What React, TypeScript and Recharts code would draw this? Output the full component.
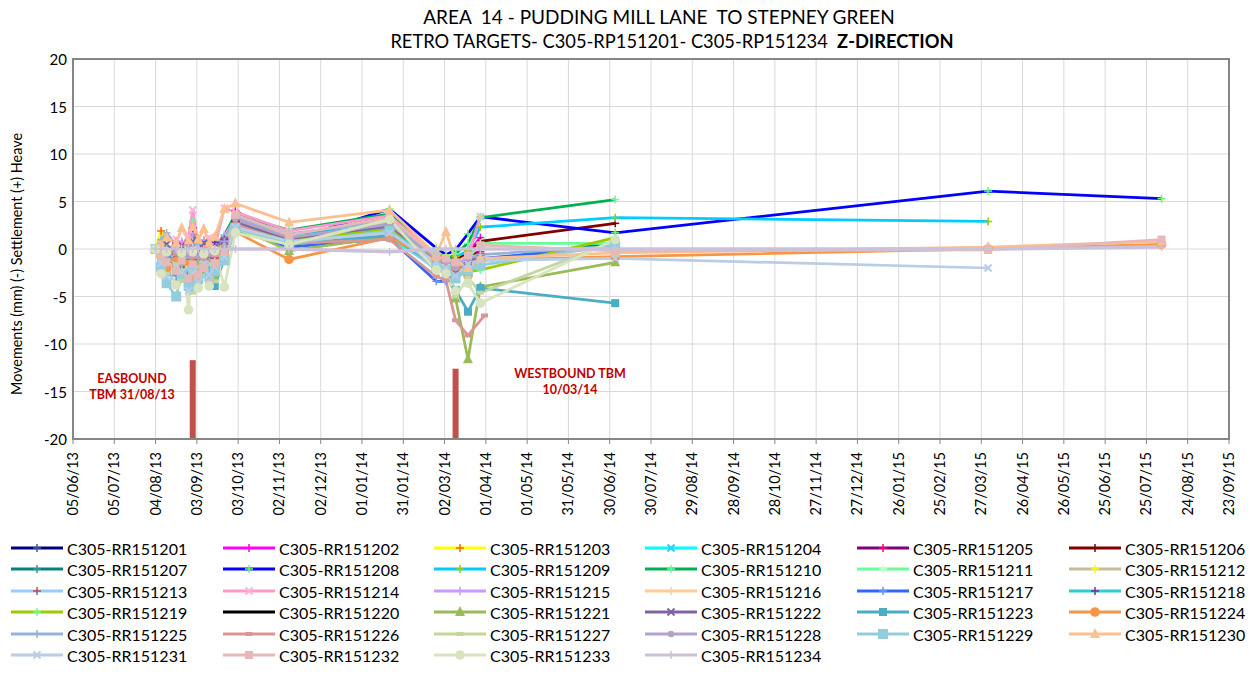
import React from 'react';
import { LineChart, Line, XAxis, YAxis, CartesianGrid, ReferenceLine, ReferenceArea } from 'recharts';

const _ = null;

const titleLine1 = 'AREA  14 - PUDDING MILL LANE  TO STEPNEY GREEN';
const titleLine2a = 'RETRO TARGETS- C305-RP151201- C305-RP151234  ';
const titleLine2b = 'Z-DIRECTION';
const yAxisTitle = 'Movements (mm) (-) Settlement (+) Heave';

const xTickLabels = [
  '05/06/13', '05/07/13', '04/08/13', '03/09/13', '03/10/13', '02/11/13', '02/12/13', '01/01/14',
  '31/01/14', '02/03/14', '01/04/14', '01/05/14', '31/05/14', '30/06/14', '30/07/14', '29/08/14',
  '28/09/14', '28/10/14', '27/11/14', '27/12/14', '26/01/15', '25/02/15', '27/03/15', '26/04/15',
  '26/05/15', '25/06/15', '25/07/15', '24/08/15', '23/09/15',
];
const yTicks = [-20, -15, -10, -5, 0, 5, 10, 15, 20];

const readingDates = [
  '04/08/13', '08/08/13', '12/08/13', '19/08/13', '23/08/13', '28/08/13', '31/08/13', '04/09/13',
  '08/09/13', '12/09/13', '16/09/13', '23/09/13', '01/10/13', '09/11/13', '21/01/14', '24/02/14',
  '03/03/14', '10/03/14', '19/03/14', '28/03/14', '31/03/14', '04/07/14', '01/04/15', '05/08/15',
];

const tbmDates = ['31/08/13', '10/03/14'];
const tbmBarTops = [-11.7, -12.6];
const tbmLabels = [['EASBOUND', 'TBM 31/08/13'], ['WESTBOUND TBM', '10/03/14']];

const seriesNames = [
  'C305-RR151201', 'C305-RR151202', 'C305-RR151203', 'C305-RR151204', 'C305-RR151205', 'C305-RR151206',
  'C305-RR151207', 'C305-RR151208', 'C305-RR151209', 'C305-RR151210', 'C305-RR151211', 'C305-RR151212',
  'C305-RR151213', 'C305-RR151214', 'C305-RR151215', 'C305-RR151216', 'C305-RR151217', 'C305-RR151218',
  'C305-RR151219', 'C305-RR151220', 'C305-RR151221', 'C305-RR151222', 'C305-RR151223', 'C305-RR151224',
  'C305-RR151225', 'C305-RR151226', 'C305-RR151227', 'C305-RR151228', 'C305-RR151229', 'C305-RR151230',
  'C305-RR151231', 'C305-RR151232', 'C305-RR151233', 'C305-RR151234',
];

const seriesColors = [
  '#000080', '#ff00ff', '#ffff00', '#00ffff', '#800080', '#800000',
  '#008080', '#0000ff', '#00ccff', '#00b050', '#66ff99', '#c4bd97',
  '#99ccff', '#ff99cc', '#cc99ff', '#ffcc99', '#3366ff', '#33cccc',
  '#99cc00', '#000000', '#9bbb59', '#8064a2', '#4bacc6', '#f79646',
  '#95b3d7', '#d99694', '#c3d69b', '#b3a2c7', '#93cddd', '#fac090',
  '#b9cde5', '#e6b9b8', '#d7e4bd', '#ccc1da',
];

const markerColors = [
  '#3d5a9e', '#ff00ff', '#ff6600', '#33ccff', '#ff0066', '#800000',
  '#339999', '#66ff66', '#99cc00', '#66ff99', '#ccffcc', '#ffff00',
  '#c0504d', '#ffb3d9', '#cc99ff', '#ffcc99', '#6699ff', '#7030a0',
  '#66ff99', '#000000', '#9bbb59', '#8064a2', '#4bacc6', '#f79646',
  '#95b3d7', '#d99694', '#c3d69b', '#b3a2c7', '#93cddd', '#fac090',
  '#b9cde5', '#e6b9b8', '#d7e4bd', '#ccc1da',
];

const markerShapes = [
  'plus', 'plus', 'plus', 'x', 'plus', 'plus',
  'plus', 'plus', 'plus', 'plus', 'plus', 'plus',
  'plus', 'x', 'plus', 'plus', 'plus', 'plus',
  'plus', 'none', 'triangle', 'x', 'square', 'circle',
  'plus', 'dash', 'dash', 'smallcircle', 'bigsquare', 'triangle',
  'x', 'square', 'circle', 'plus',
];

const v201 = [0, -0.4, -1.0, -1.8, -0.9, -2.6, -1.2, -2.2, -0.7, -1.4, -2.5, -0.6, 2.4, 0.6, 1.6, -1.6, -2.0, -1.8, -1.2, -0.9, _, _, _, _];
const v202 = [0, 0.3, -0.8, -1.5, 0.6, -2.0, 1.2, -1.0, 0.4, -2.2, -1.2, 0.8, 3.0, 0.2, 1.4, -1.2, -1.8, -1.3, -0.4, 1.2, _, _, _, _];
const v203 = [0, 1.9, -0.5, 0.8, -1.2, 0.5, 1.5, -0.4, 0.9, -1.0, 0.2, 1.1, 2.8, 1.2, 1.8, -0.8, -1.0, -1.6, -0.9, -0.5, _, _, _, _];
const v204 = [0, -1.0, -2.5, -1.2, -3.0, -1.5, -2.8, -0.6, -2.0, -1.2, -3.2, -0.5, 2.0, 0.4, 1.2, -2.0, -2.4, -2.8, -1.6, -1.2, _, _, _, _];
const v205 = [0, -0.6, -0.2, -1.6, -0.8, -2.4, -0.5, -1.8, 0.3, -1.6, -0.9, 0.5, 4.0, 1.0, 2.2, -1.4, -1.6, -2.0, -0.6, -0.3, _, _, _, _];
const v206 = [0, -0.2, -1.4, -0.6, -2.0, -0.9, -3.2, -1.1, -0.3, -2.0, -1.5, -0.2, 2.9, 1.2, 3.4, -0.9, -1.4, -1.0, -0.6, 0.8, _, 2.7, _, _];
const v207 = [0, -0.8, -1.8, -0.4, -1.4, -3.4, -1.0, -2.6, -1.5, -0.8, -2.2, -0.4, 2.6, 0.9, 1.8, -1.8, -2.2, -2.4, -1.8, -1.2, _, 0.7, _, _];
const v208 = [0, -0.3, -0.9, -2.2, -1.1, -1.8, -4.2, -1.4, -0.6, -2.8, -1.1, 0.2, 2.2, 0.9, 4.2, 0.1, -0.6, -0.1, 1.6, 3.4, _, 1.7, 6.1, 5.3];
const v209 = [0, -1.2, -0.4, -1.9, -0.5, -2.8, -0.8, -1.9, -1.0, -0.6, -2.4, -0.3, 3.5, 1.4, 2.5, -1.0, -1.5, -0.8, -0.2, 2.3, _, 3.3, 2.9, _];
const v210 = [0, 0.8, -0.6, 0.4, -1.0, 1.0, 2.9, 0.2, -0.8, 0.6, -0.5, 1.5, 3.6, 2.0, 3.7, -0.6, -1.2, -0.5, 0.6, 3.3, _, 5.2, _, _];
const v211 = [0, -0.5, 0.4, -0.8, 0.2, -1.3, 0.7, -0.7, 0.5, -1.1, 0.1, 0.6, 3.1, 1.3, 2.0, -1.0, -1.6, -2.4, -1.0, 0.6, _, 0.6, _, _];
const v212 = [0, 0.2, -1.1, -0.3, -1.7, -0.6, -1.9, -0.2, -1.2, -0.4, -1.6, 0.1, 2.5, 0.9, 2.7, -1.4, -1.8, -2.0, -1.4, -1.0, _, _, _, _];
const v213 = [0, -1.4, -2.2, -3.6, -1.8, -2.9, -1.3, -3.1, -1.6, -2.5, -1.0, -0.8, 2.1, 0.7, 1.5, -2.2, -2.6, -2.2, -1.7, -1.4, _, _, _, _];
const v214 = [0, 0.5, -0.6, 1.0, -0.3, 1.4, 4.1, 0.6, -0.4, 1.2, 0.2, 4.3, 3.9, 1.9, 3.5, -0.7, -1.1, -1.5, -0.8, 3.4, _, _, _, _];
const v215 = [0, -0.7, 0.2, -1.1, 0.8, -0.9, 1.6, -0.5, 0.9, -0.8, 0.4, 1.4, 3.2, 1.1, 2.3, -1.2, -1.5, -1.9, -1.1, -0.7, _, _, _, _];
const v216 = [0, -0.9, -1.6, -0.7, -2.3, -1.2, -2.7, -1.5, -0.8, -2.1, -1.3, 0.3, 1.9, 0.3, 1.2, -0.8, -1.1, -2.6, -2.0, -1.6, _, _, _, _];
const v217 = [0, -1.6, -1.2, -2.8, -1.7, -3.6, -1.9, -2.4, -1.1, -3.3, -1.8, -0.9, 2.0, 0.2, 1.1, -3.4, -3.4, -2.6, -1.9, -1.0, _, 0.2, _, _];
const v218 = [0, 0.1, -0.9, 0.6, -0.7, 0.9, 2.2, -0.3, 0.4, -0.9, 0.7, 1.0, 3.0, 1.0, 2.1, -1.3, -1.9, -3.0, -1.4, -0.6, _, _, _, _];
const v219 = [0, -0.4, -1.3, -0.9, -2.1, -1.0, -2.6, -0.6, -1.8, -0.7, -2.0, 0.4, 2.3, 1.0, 2.0, -0.4, -0.9, -1.6, -2.4, -2.2, _, 1.2, _, _];
const v220 = [_, _, _, _, _, _, _, _, _, _, _, _, _, _, _, _, _, _, _, _, _, _, _, _];
const v221 = [0, -1.1, -2.3, -1.4, -3.1, -1.9, -3.5, -1.7, -2.6, -1.4, -2.9, -0.5, 2.4, -0.2, 1.3, -1.5, -2.0, -5.2, -11.6, -4.0, _, -1.4, _, _];
const v222 = [0, -0.2, 0.5, -0.6, 0.3, -1.0, 0.8, -0.4, 0.6, -0.7, 0.2, 0.9, 2.8, 1.1, 2.4, -1.1, -1.7, -2.2, -1.3, -0.9, _, _, _, _];
const v223 = [0, -1.8, -1.0, -2.4, -1.3, -3.8, -2.0, -2.9, -1.2, -2.2, -3.9, -1.0, 1.9, 0.5, 1.4, -1.8, -2.6, -4.3, -6.6, -4.1, _, -5.7, _, _];
const v224 = [0, -0.8, -2.0, -1.3, -2.6, -1.6, -3.0, -2.1, -1.4, -2.6, -1.8, -0.6, 1.8, -1.1, 1.2, -1.2, -2.2, -1.8, -2.8, -1.2, _, -0.8, 0.0, 0.5];
const v225 = [0, 1.0, 1.7, 0.4, -0.6, 0.8, -0.4, 0.5, -0.8, 0.3, -0.5, 0.8, 3.4, 1.6, 2.9, -0.9, -1.3, -1.8, -1.0, -0.6, _, 0.3, _, _];
const v226 = [0, -0.3, -1.7, -0.5, -1.5, -2.2, -0.9, -2.0, -0.6, -1.3, -0.7, 0.2, 2.6, 0.6, 1.0, -2.9, -3.3, -7.5, -9.1, _, -7.0, _, _, _];
const v227 = [0, -1.3, -2.6, -1.6, -3.3, -2.0, -4.6, -1.9, -2.8, -1.6, -3.4, -0.7, 2.1, 0.4, 3.0, -1.7, -2.3, -5.0, -3.0, -4.6, _, 0.8, _, _];
const v228 = [0, -0.5, -1.1, -0.2, -1.4, -0.7, -2.0, -0.8, -1.5, -0.5, -1.9, 0.1, 3.1, 1.2, 2.6, -1.0, -1.4, -2.0, -1.5, -1.1, _, _, _, _];
const v229 = [0, -1.9, -3.6, -5.0, -2.6, -3.9, -2.2, -3.2, -1.8, -2.9, -2.3, -1.2, 2.2, 0.6, 1.9, -1.9, -2.3, -3.1, -2.2, -1.7, _, 0.4, _, _];
const v230 = [0, 0.4, 1.2, 0.6, 2.2, 0.9, 2.3, 1.0, 2.1, 0.6, 1.3, 4.2, 4.8, 2.8, 4.1, -0.6, 1.8, -1.2, -2.0, -1.0, _, -0.4, 0.2, 0.8];
const v231 = [0, -1.5, -2.9, -1.7, -2.4, -4.4, -2.5, -3.5, -1.6, -2.7, -1.9, -0.8, 2.3, 0.8, 1.7, -1.4, -2.0, -2.8, -1.6, -1.2, _, -1.0, -2.0, _];
const v232 = [0, -0.7, -1.4, -2.3, -1.2, -3.1, -1.6, -2.7, -2.0, -3.6, -1.5, -0.3, 3.6, 1.5, 3.3, -0.8, -1.0, -1.4, -0.7, 0.4, _, -0.2, -0.1, 1.0];
const v233 = [0, -2.6, -0.3, -3.8, -0.4, -6.4, -0.3, -4.1, -0.5, -3.9, -0.2, -4.0, 1.7, 0.5, 3.1, -2.2, -2.6, -4.4, -3.6, -5.7, _, 1.0, _, _];
const v234 = [0, 0, 0, 0, 0, 0, 0, 0, 0, 0, 0, 0, 0, 0, -0.3, 0, 0, 0, 0, 0, _, 0, 0, 0.2];

const seriesValues = [
  v201, v202, v203, v204, v205, v206, v207, v208, v209, v210, v211, v212,
  v213, v214, v215, v216, v217, v218, v219, v220, v221, v222, v223, v224,
  v225, v226, v227, v228, v229, v230, v231, v232, v233, v234,
];

// ---- helpers ----
const BASE = Date.UTC(2013, 5, 5);
const dayOf = (s: string) => {
  const [d, m, y] = s.split('/').map(Number);
  return Math.round((Date.UTC(2000 + y, m - 1, d) - BASE) / 86400000);
};
const xTicks = xTickLabels.map(dayOf);
const tickLabelByDay: Record<number, string> = {};
xTickLabels.forEach((l, i) => { tickLabelByDay[xTicks[i]] = l; });

const rows = readingDates.map((d, j) => {
  const row: any = { t: dayOf(d) };
  seriesValues.forEach((vals, i) => { row['s' + i] = vals[j]; });
  return row;
});

const FONT = 'Lato, "Liberation Sans", sans-serif';
const AXIS_GRAY = '#868686';

function markerEl(shape: string, color: string, cx: number, cy: number, key?: string) {
  switch (shape) {
    case 'plus':
      return (
        <g key={key}>
          <line x1={cx - 4} y1={cy} x2={cx + 4} y2={cy} stroke={color} strokeWidth={1.5} />
          <line x1={cx} y1={cy - 4} x2={cx} y2={cy + 4} stroke={color} strokeWidth={1.5} />
        </g>
      );
    case 'x':
      return (
        <g key={key}>
          <line x1={cx - 3.5} y1={cy - 3.5} x2={cx + 3.5} y2={cy + 3.5} stroke={color} strokeWidth={2} />
          <line x1={cx - 3.5} y1={cy + 3.5} x2={cx + 3.5} y2={cy - 3.5} stroke={color} strokeWidth={2} />
        </g>
      );
    case 'triangle':
      return <polygon key={key} points={`${cx},${cy - 6} ${cx - 5},${cy + 4} ${cx + 5},${cy + 4}`} fill={color} />;
    case 'square':
      return <rect key={key} x={cx - 4} y={cy - 4} width={8} height={8} fill={color} />;
    case 'bigsquare':
      return <rect key={key} x={cx - 5} y={cy - 5} width={10} height={10} fill={color} />;
    case 'circle':
      return <circle key={key} cx={cx} cy={cy} r={4.8} fill={color} />;
    case 'smallcircle':
      return <circle key={key} cx={cx} cy={cy} r={3.2} fill={color} />;
    case 'dash':
      return <rect key={key} x={cx - 3.5} y={cy - 2} width={7} height={4} fill={color} />;
    default:
      return <g key={key} />;
  }
}

const makeDot = (i: number) => (props: any) => {
  const { cx, cy, index, value } = props;
  const k = `dot-${i}-${index}`;
  if (cx == null || cy == null || value == null || Number.isNaN(cy)) return <g key={k} />;
  return markerEl(markerShapes[i], markerColors[i], cx, cy, k);
};

const XTick = (props: any) => {
  const { x, payload } = props;
  const label = tickLabelByDay[payload.value] ?? '';
  const ax = x + 5;
  const ay = 452;
  return (
    <text x={ax} y={ay} transform={`rotate(-90, ${ax}, ${ay})`} textAnchor="end" fontSize={14.5} fontFamily={FONT} fill="#000">
      {label}
    </text>
  );
};

const YTick = (props: any) => {
  const { y, payload } = props;
  return (
    <text x={67} y={y} textAnchor="end" dominantBaseline="central" fontSize={15} fontFamily={FONT} fill="#000">
      {payload.value}
    </text>
  );
};

const legendColX = [10, 222, 433, 644, 856, 1068];
const legendRowY = [548, 569, 591, 612, 634, 655];

export default function App() {
  return (
    <div style={{ position: 'absolute', left: 0, top: 0, width: 1258, height: 678, background: '#fff', fontFamily: FONT }}>
      <LineChart width={1258} height={678} data={rows} margin={{ top: 59, right: 29, bottom: 159, left: 13 }}>
        <CartesianGrid stroke="#d9d9d9" strokeWidth={1} />
        <XAxis
          dataKey="t"
          type="number"
          domain={[xTicks[0], xTicks[xTicks.length - 1]]}
          ticks={xTicks}
          interval={0}
          height={80}
          tick={<XTick />}
          tickSize={5}
          tickLine={{ stroke: AXIS_GRAY }}
          axisLine={{ stroke: AXIS_GRAY, strokeWidth: 2 }}
          allowDataOverflow
        />
        <YAxis
          type="number"
          domain={[yTicks[0], yTicks[yTicks.length - 1]]}
          ticks={yTicks}
          interval={0}
          width={60}
          tick={<YTick />}
          tickLine={false}
          axisLine={{ stroke: AXIS_GRAY, strokeWidth: 2 }}
          allowDataOverflow
        />
        <ReferenceArea
          x1={xTicks[0]}
          x2={xTicks[xTicks.length - 1]}
          y1={yTicks[0]}
          y2={yTicks[yTicks.length - 1]}
          fill="none"
          fillOpacity={0}
          stroke={AXIS_GRAY}
          strokeWidth={2}
        />
        {tbmDates.map((d, i) => (
          <ReferenceLine
            key={'tbm' + i}
            segment={[{ x: dayOf(d), y: yTicks[0] }, { x: dayOf(d), y: tbmBarTops[i] }]}
            stroke="#c0504d"
            strokeWidth={6}
          />
        ))}
        {seriesNames.map((name, i) => (
          <Line
            key={name}
            name={name}
            dataKey={'s' + i}
            stroke={seriesColors[i]}
            strokeWidth={i === 33 ? 3.5 : 2.75}
            dot={makeDot(i)}
            activeDot={false}
            connectNulls
            isAnimationActive={false}
          />
        ))}
      </LineChart>

      {/* Titles */}
      <div style={{ position: 'absolute', left: 659, top: 16, transform: 'translate(-50%, -50%)', whiteSpace: 'pre', fontSize: 19, color: '#000' }}>
        {titleLine1}
      </div>
      <div style={{ position: 'absolute', left: 672, top: 41, transform: 'translate(-50%, -50%)', whiteSpace: 'pre', fontSize: 18.3, color: '#000' }}>
        {titleLine2a}<b>{titleLine2b}</b>
      </div>

      {/* Y axis title */}
      <div style={{ position: 'absolute', left: 16, top: 264, transform: 'translate(-50%, -50%) rotate(-90deg)', whiteSpace: 'nowrap', fontSize: 14.4, color: '#000' }}>
        {yAxisTitle}
      </div>

      {/* TBM labels */}
      <div style={{ position: 'absolute', left: 132, top: 387, transform: 'translate(-50%, -50%)', textAlign: 'center', color: '#c00000', fontWeight: 700, fontSize: 12.5, lineHeight: '16px', whiteSpace: 'nowrap' }}>
        {tbmLabels[0][0]}<br />{tbmLabels[0][1]}
      </div>
      <div style={{ position: 'absolute', left: 570, top: 382, transform: 'translate(-50%, -50%)', textAlign: 'center', color: '#c00000', fontWeight: 700, fontSize: 12.5, lineHeight: '16px', whiteSpace: 'nowrap' }}>
        {tbmLabels[1][0]}<br />{tbmLabels[1][1]}
      </div>

      {/* Legend */}
      {seriesNames.map((name, i) => {
        const col = i % 6;
        const row = Math.floor(i / 6);
        const x = legendColX[col];
        const y = legendRowY[row];
        return (
          <div key={'lg' + i} style={{ position: 'absolute', left: x, top: y - 10, height: 20, display: 'flex', alignItems: 'center', whiteSpace: 'nowrap' }}>
            <svg width={54} height={20} style={{ display: 'block' }}>
              <line x1={1} y1={10} x2={53} y2={10} stroke={seriesColors[i]} strokeWidth={3} />
              {markerEl(markerShapes[i], markerColors[i], 27, 10)}
            </svg>
            <span style={{ marginLeft: 3, fontSize: 16, color: '#000' }}>{name}</span>
          </div>
        );
      })}
    </div>
  );
}
